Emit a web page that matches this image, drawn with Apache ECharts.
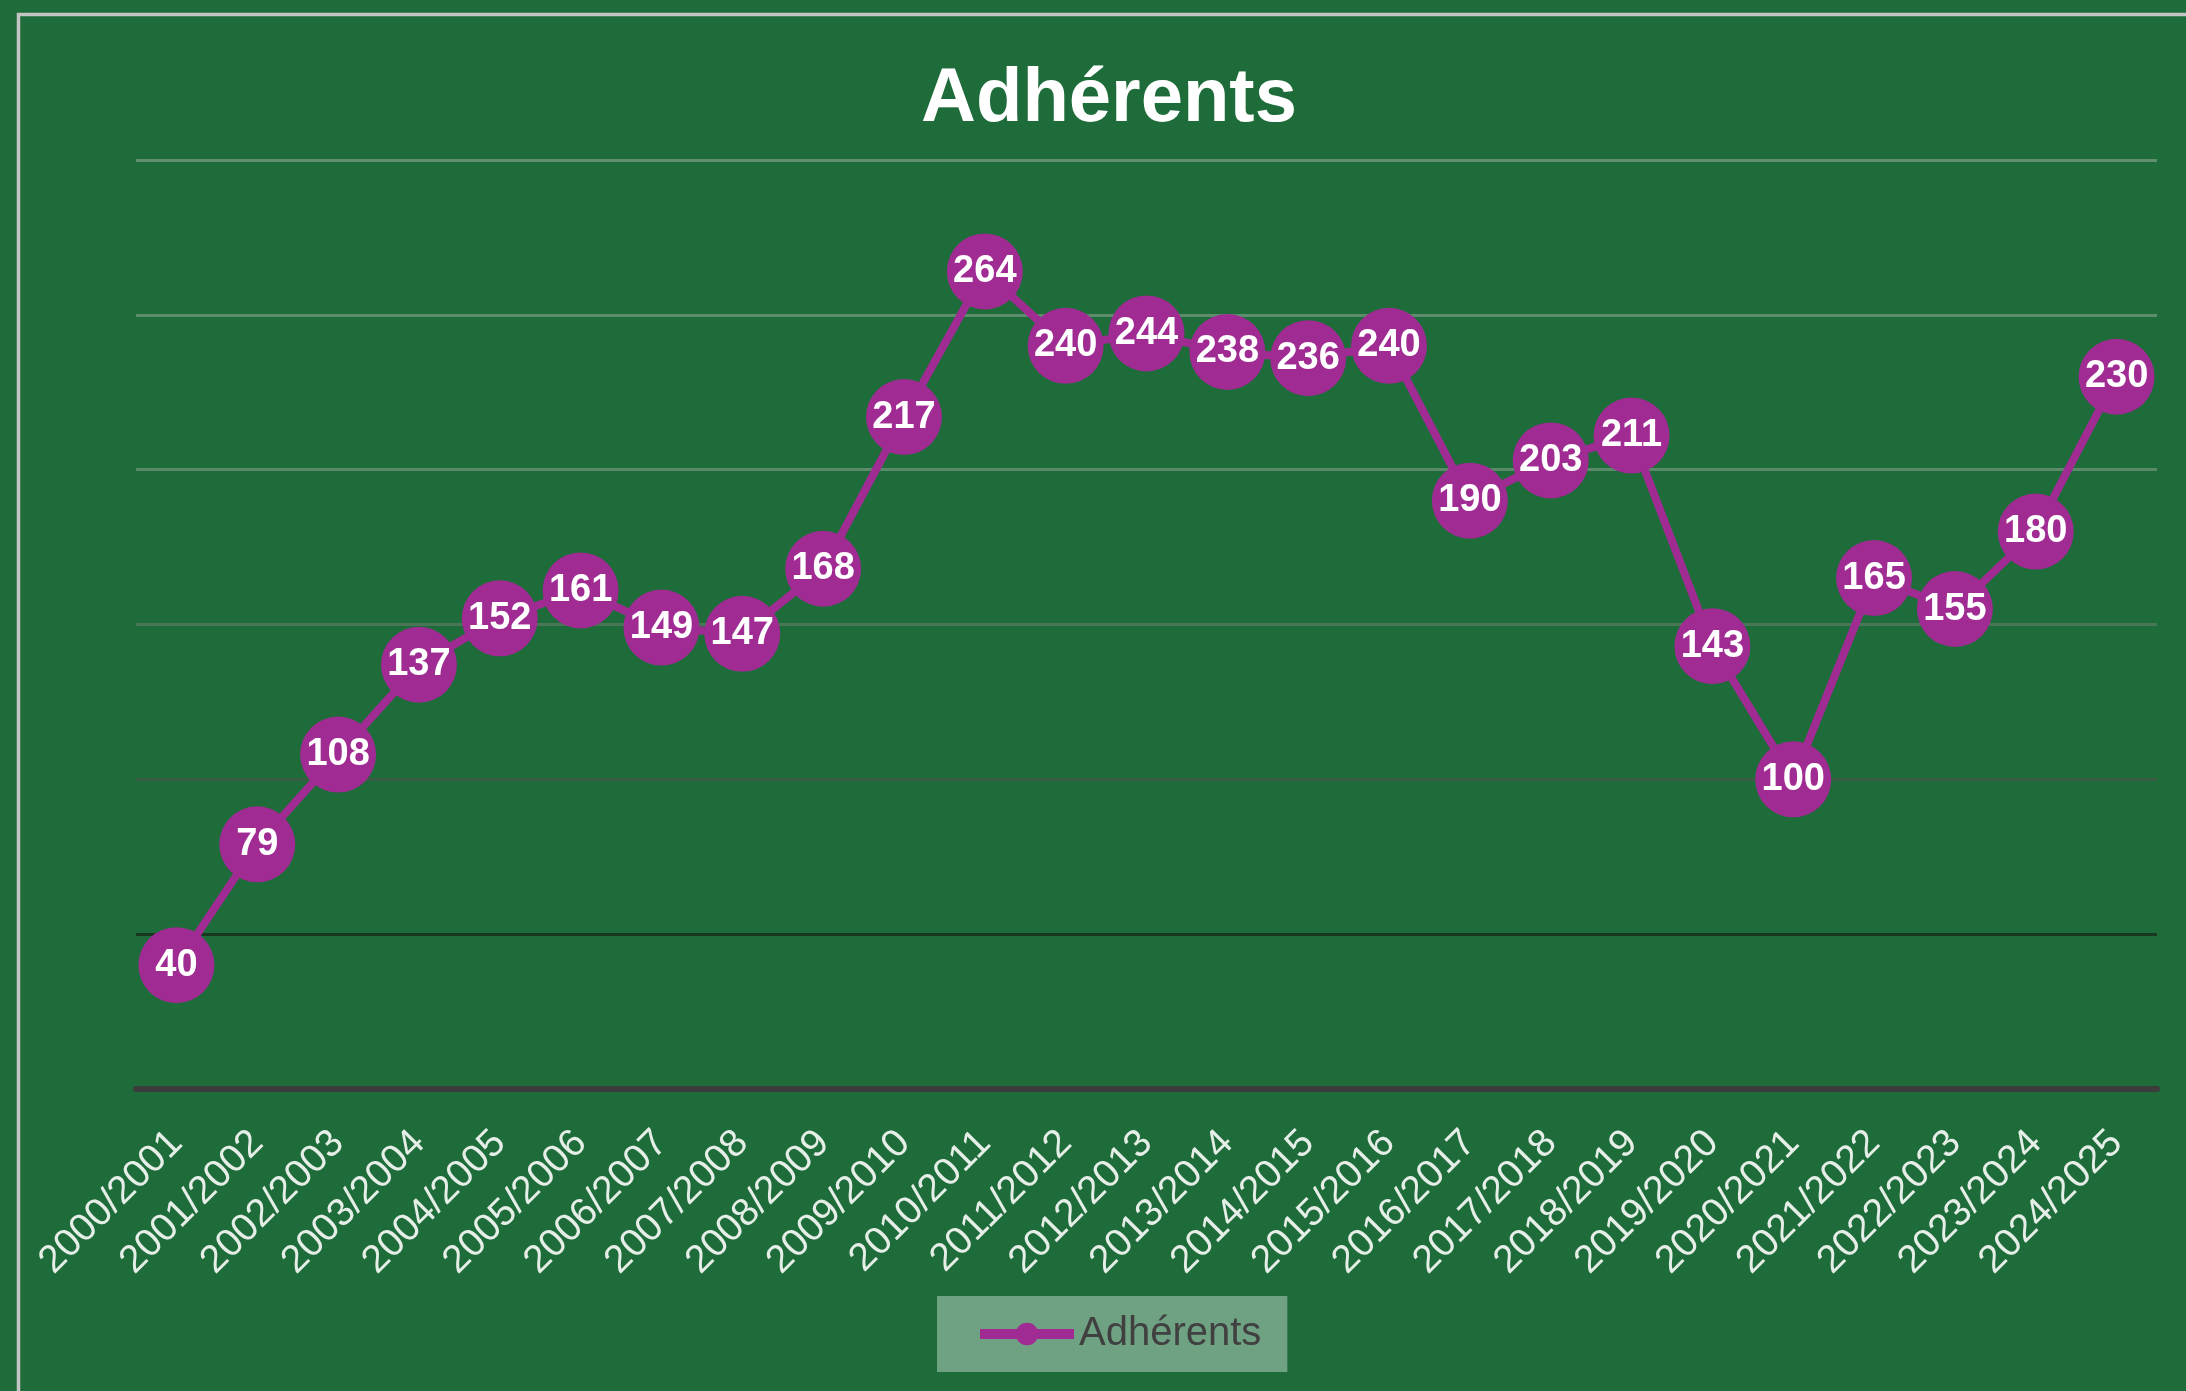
<!DOCTYPE html>
<html>
<head>
<meta charset="utf-8">
<title>Adhérents</title>
<script src="https://cdn.jsdelivr.net/npm/echarts@6/dist/echarts.min.js"></script>
<style>
  html, body { margin: 0; padding: 0; background: #1E6C3A; }
  #adherents { width: 2186px; height: 1391px; }
</style>
</head>
<body>
<div id="adherents"></div>
<script>
// saisons
var seasons = [
  '2000/2001', '2001/2002', '2002/2003', '2003/2004', '2004/2005',
  '2005/2006', '2006/2007', '2007/2008', '2008/2009', '2009/2010',
  '2010/2011', '2011/2012', '2012/2013', '2013/2014', '2014/2015',
  '2015/2016', '2016/2017', '2017/2018', '2018/2019', '2019/2020',
  '2020/2021', '2021/2022', '2022/2023', '2023/2024', '2024/2025'
];
// nombre d'adhérents par saison
var members = [
  40, 79, 108, 137, 152, 161, 149, 147, 168, 217,
  264, 240, 244, 238, 236, 240, 190, 203, 211, 143,
  100, 165, 155, 180, 230
];
var yMin = 0;
var yMax = 300;
var yStep = 50;

function draw_adherents() {
var dom = document.getElementById('adherents');
var myChart = echarts.init(dom);

var option;

var purple = '#A02B93';

option = {
  backgroundColor: '#1E6C3A',
  animation: false,
  title: {
    text: 'Adhérents',
    left: 1104,
    top: 57,
    textAlign: 'center',
    textStyle: {
      color: '#ffffff',
      fontFamily: 'Liberation Sans',
      fontWeight: 'bold',
      fontSize: 76
    }
  },
  graphic: [
    {
      // cadre du graphique
      type: 'rect',
      shape: { x: 18.5, y: 14.5, width: 2300, height: 1500 },
      style: { fill: 'none', stroke: '#c4c4c4', lineWidth: 3.5 },
      silent: true
    }
  ],
  legend: {
    data: ['Adhérents'],
    left: 937,
    top: 1296,
    padding: [18, 26, 18, 38],
    backgroundColor: '#6FA283',
    itemWidth: 94,
    itemHeight: 28,
    lineStyle: { width: 10 },
    textStyle: {
      color: '#404040',
      fontFamily: 'Liberation Sans',
      fontSize: 40
    }
  },
  grid: {
    left: 136,
    right: 29,
    top: 160,
    bottom: 302,
    containLabel: false
  },
  xAxis: {
    type: 'category',
    data: seasons,
    boundaryGap: true,
    axisTick: { show: false },
    axisLine: {
      show: true,
      lineStyle: { color: '#3c3c3c', width: 6 }
    },
    axisLabel: {
      rotate: 45,
      interval: 0,
      margin: 48,
      color: '#e6eee8',
      fontFamily: 'Liberation Sans',
      fontSize: 39
    }
  },
  yAxis: {
    type: 'value',
    min: yMin,
    max: yMax,
    interval: yStep,
    axisLabel: { show: false },
    axisLine: { show: false },
    axisTick: { show: false },
    splitLine: {
      show: true,
      lineStyle: {
        width: 3,
        // de plus en plus clair vers le haut
        color: ['rgba(0,0,0,0)', '#17381f', '#3b5d46', '#4a7658', '#5a8a69', '#5e8d6d', '#618f70']
      }
    }
  },
  series: [
    {
      name: 'Adhérents',
      type: 'line',
      data: members,
      color: purple,
      symbol: 'circle',
      symbolSize: 76,
      lineStyle: { color: purple, width: 8 },
      itemStyle: { color: purple },
      label: {
        show: true,
        position: 'inside',
        color: '#ffffff',
        fontFamily: 'Liberation Sans',
        fontWeight: 'bold',
        fontSize: 38
      },
      z: 3
    }
  ]
};

if (option && typeof option === 'object') {
    myChart.setOption(option);
}
};

draw_adherents();
</script>
</body>
</html>
